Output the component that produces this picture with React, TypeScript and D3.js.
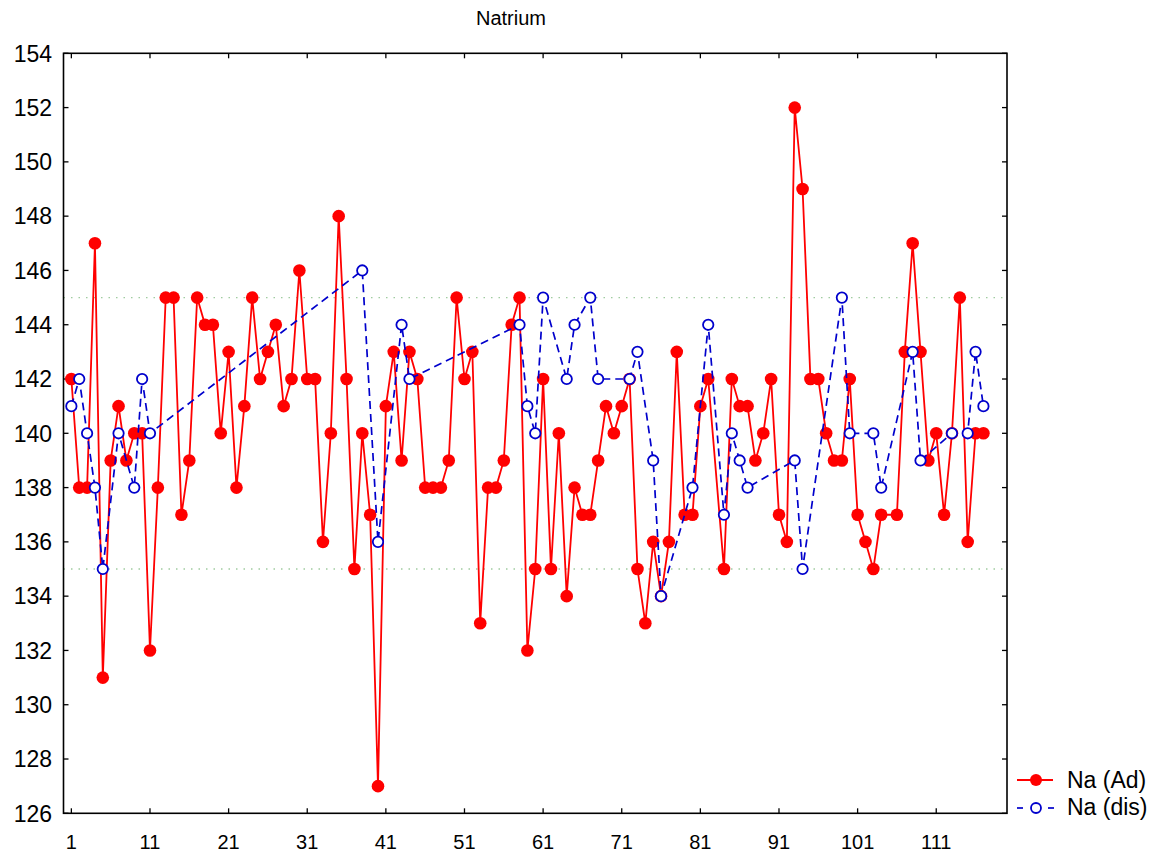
import React from "react";
import * as d3 from "d3";

// Na (Ad): index 1..117, null = missing
const naAd: (number | null)[] = [
  142, 138, 138, 147, 131, 139, 141, 139, 140, 140,
  132, 138, 145, 145, 137, 139, 145, 144, 144, 140,
  143, 138, 141, 145, 142, 143, 144, 141, 142, 146,
  142, 142, 136, 140, 148, 142, 135, 140, 137, 127,
  141, 143, 139, 143, 142, 138, 138, 138, 139, 145,
  142, 143, 133, 138, 138, 139, 144, 145, 132, 135,
  142, 135, 140, 134, 138, 137, 137, 139, 141, 140,
  141, 142, 135, 133, 136, 134, 136, 143, 137, 137,
  141, 142, null, 135, 142, 141, 141, 139, 140, 142,
  137, 136, 152, 149, 142, 142, 140, 139, 139, 142,
  137, 136, 135, 137, null, 137, 143, 147, 143, 139,
  140, 137, 140, 145, 136, 140, 140,
];

// Na (dis): index 1..117, null = missing
const naDis: (number | null)[] = [
  141, 142, 140, 138, 135, null, 140, null, 138, 142,
  140, null, null, null, null, null, null, null, null, null,
  null, null, null, null, null, null, null, null, null, null,
  null, null, null, null, null, null, null, 146, null, 136,
  null, null, 144, 142, null, null, null, null, null, null,
  null, null, null, null, null, null, null, 144, 141, 140,
  145, null, null, 142, 144, null, 145, 142, null, null,
  null, 142, 143, null, 139, 134, null, null, null, 138,
  null, 144, null, 137, 140, 139, 138, null, null, null,
  null, null, 139, 135, null, null, null, null, 145, 140,
  null, null, 140, 138, null, null, null, 143, 139, null,
  null, null, 140, null, 140, 143, 141,
];

const xTicks = [1, 11, 21, 31, 41, 51, 61, 71, 81, 91, 101, 111];
const yTicks = [126, 128, 130, 132, 134, 136, 138, 140, 142, 144, 146, 148, 150, 152, 154];
const refLines = [135, 145];
const title = "Natrium";
const seriesNames = ["Na (Ad)", "Na (dis)"];

const W = 1160;
const H = 857;
const L = 63.5, R = 1007, T = 53.3, B = 813.3;
const FONT = "'Liberation Sans', Arial, sans-serif";

type P = { i: number; v: number };
const toPts = (arr: (number | null)[]): P[] =>
  arr.map((v, k) => ({ i: k + 1, v })).filter((d) => d.v !== null) as P[];

export default function App() {
  const x = d3.scaleLinear().domain([0, 120]).range([L, R]);
  const y = d3.scaleLinear().domain([126, 154]).range([B, T]);
  const line = d3.line<P>().x((d) => x(d.i)).y((d) => y(d.v));
  const red = toPts(naAd);
  const blue = toPts(naDis);
  const RED = "#ff0000";
  const BLUE = "#0000cc";

  return (
    <svg
      width={W}
      height={H}
      style={{ position: "absolute", left: 0, top: 0, background: "#fff" }}
      fontFamily={FONT}
    >
      <rect x={0} y={0} width={W} height={H} fill="#fff" />
      <text x={511} y={25} fontSize={20} textAnchor="middle" fill="#000">
        {title}
      </text>

      {refLines.map((v) => (
        <line
          key={v}
          x1={L}
          x2={R}
          y1={y(v)}
          y2={y(v)}
          stroke="#a0cca0"
          strokeWidth={1.3}
          strokeDasharray="1.5,6"
        />
      ))}

      {/* frame */}
      <rect x={L} y={T} width={R - L} height={B - T} fill="none" stroke="#000" strokeWidth={1.6} />

      {yTicks.map((t) => (
        <g key={t}>
          <line x1={L} x2={L + 5} y1={y(t)} y2={y(t)} stroke="#000" strokeWidth={1.3} />
          <line x1={R} x2={R - 5} y1={y(t)} y2={y(t)} stroke="#000" strokeWidth={1.3} />
          <text x={52} y={y(t)} dy="0.36em" fontSize={23} textAnchor="end" fill="#000">
            {t}
          </text>
        </g>
      ))}
      {xTicks.map((t) => (
        <g key={t}>
          <line x1={x(t)} x2={x(t)} y1={B} y2={B - 5} stroke="#000" strokeWidth={1.3} />
          <line x1={x(t)} x2={x(t)} y1={T} y2={T + 5} stroke="#000" strokeWidth={1.3} />
          <text x={x(t)} y={849} fontSize={20} textAnchor="middle" fill="#000">
            {t}
          </text>
        </g>
      ))}

      {/* Na (Ad) */}
      <path d={line(red) || ""} fill="none" stroke={RED} strokeWidth={1.8} />
      {red.map((d) => (
        <circle key={"r" + d.i} cx={x(d.i)} cy={y(d.v)} r={6.3} fill={RED} />
      ))}

      {/* Na (dis) */}
      <path d={line(blue) || ""} fill="none" stroke={BLUE} strokeWidth={1.7} strokeDasharray="8,5" />
      {blue.map((d) => (
        <circle key={"b" + d.i} cx={x(d.i)} cy={y(d.v)} r={5.2} fill="#fff" stroke={BLUE} strokeWidth={1.8} />
      ))}

      {/* legend */}
      <g>
        <line x1={1017} x2={1053} y1={780} y2={780} stroke={RED} strokeWidth={1.8} />
        <circle cx={1036} cy={780} r={6} fill={RED} />
        <text x={1067} y={780} dy="0.36em" fontSize={23} fill="#000">
          {seriesNames[0]}
        </text>
        <line x1={1017} x2={1023} y1={808} y2={808} stroke={BLUE} strokeWidth={1.7} />
        <line x1={1048} x2={1054} y1={808} y2={808} stroke={BLUE} strokeWidth={1.7} />
        <circle cx={1036} cy={808} r={5} fill="#fff" stroke={BLUE} strokeWidth={1.8} />
        <text x={1067} y={807} dy="0.36em" fontSize={23} fill="#000">
          {seriesNames[1]}
        </text>
      </g>
    </svg>
  );
}
